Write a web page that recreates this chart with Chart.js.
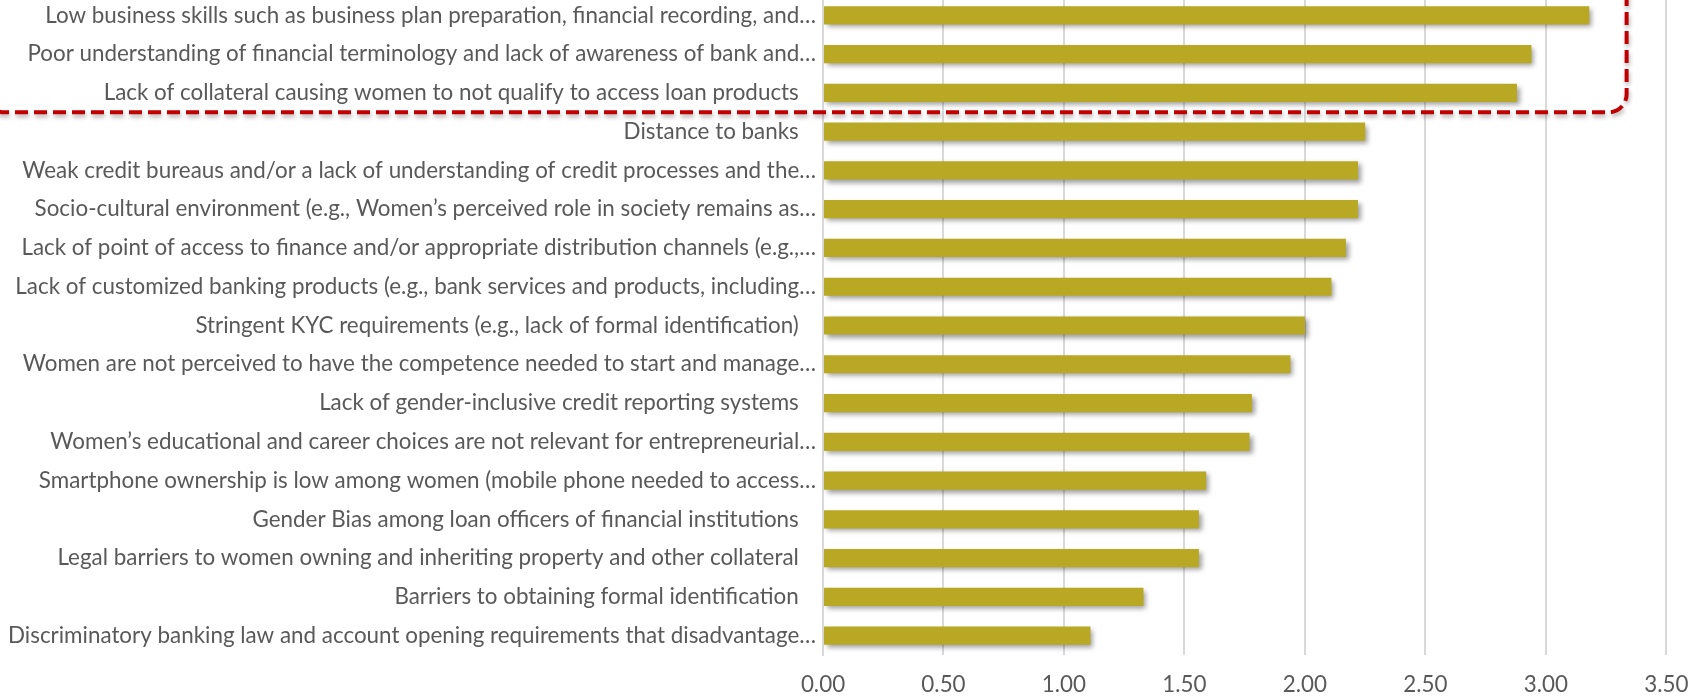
<!DOCTYPE html>
<html>
<head>
<meta charset="utf-8">
<title>Barriers to women's access to finance</title>
<script src="https://cdn.jsdelivr.net/npm/chart.js@4.4.1/dist/chart.umd.min.js"></script>
<style>
    html, body { margin: 0; padding: 0; background: #fff; overflow: hidden; }
    #wrap { position: absolute; left: 0; top: -4px; width: 1705px; height: 701px; }
</style>
</head>
<body>
<div id="wrap"><canvas id="barriers-chart"></canvas></div>
<script>
// Categories, top to bottom (labels are truncated in the source chart)
const categories = [
    'Low business skills such as business plan preparation, financial recording, and…',
    'Poor understanding of financial terminology and lack of awareness of bank and…',
    'Lack of collateral causing women to not qualify to access loan products\u00a0\u00a0\u00a0',
    'Distance to banks\u00a0\u00a0\u00a0',
    'Weak credit bureaus and/or a lack of understanding of credit processes and the…',
    'Socio-cultural environment (e.g., Women’s perceived role in society remains as…',
    'Lack of point of access to finance and/or appropriate distribution channels (e.g.,…',
    'Lack of customized banking products (e.g., bank services and products, including…',
    'Stringent KYC requirements (e.g., lack of formal identification)\u00a0\u00a0\u00a0',
    'Women are not perceived to have the competence needed to start and manage…',
    'Lack of gender-inclusive credit reporting systems\u00a0\u00a0\u00a0',
    'Women’s educational and career choices are not relevant for entrepreneurial…',
    'Smartphone ownership is low among women (mobile phone needed to access…',
    'Gender Bias among loan officers of financial institutions\u00a0\u00a0\u00a0',
    'Legal barriers to women owning and inheriting property and other collateral\u00a0\u00a0\u00a0',
    'Barriers to obtaining formal identification\u00a0\u00a0\u00a0',
    'Discriminatory banking law and account opening requirements that disadvantage…'
];

// Average score per barrier
const scores = [3.18, 2.94, 2.88, 2.25, 2.22, 2.22, 2.17, 2.11, 2.00, 1.94, 1.78, 1.77, 1.59, 1.56, 1.56, 1.33, 1.11];

// Value axis
const axisMin = 0;
const axisMax = 3.5;
const axisStep = 0.5;

// Number of top barriers wrapped by the red dashed box
const highlightCount = 3;

(function() {
    'use strict';

    const colors = {
        bar: '#B8A823',
        text: '#595959',
        grid: '#D9D9D9',
        highlight: '#C00000'
    };

    const fontFamily = 'Lato, "Open Sans", sans-serif';
    const fontSize = 22.4;

    // Drop shadow under the bars
    const barShadow = {
        id: 'barShadow',
        beforeDatasetsDraw(chart) {
            const ctx = chart.ctx;
            ctx.save();
            ctx.shadowColor = 'rgba(0, 0, 0, 0.38)';
            ctx.shadowBlur = 5;
            ctx.shadowOffsetX = 3;
            ctx.shadowOffsetY = 3;
        },
        afterDatasetsDraw(chart) {
            chart.ctx.restore();
        }
    };

    // Red dashed rounded box around the top barriers
    const highlightBox = {
        id: 'highlightBox',
        afterDraw(chart) {
            const ctx = chart.ctx;
            const x = chart.scales.x;
            const y = chart.scales.y;
            const bottom = (y.getPixelForValue(highlightCount - 1) + y.getPixelForValue(highlightCount)) / 2;
            const right = x.getPixelForValue(3.335);
            const left = -14;
            const top = -60;
            const r = 18;

            ctx.save();
            ctx.shadowColor = 'rgba(0, 0, 0, 0.3)';
            ctx.shadowBlur = 4;
            ctx.shadowOffsetX = 1;
            ctx.shadowOffsetY = 3;
            ctx.strokeStyle = colors.highlight;
            ctx.lineWidth = 4;
            ctx.setLineDash([13, 6]);
            ctx.beginPath();
            ctx.moveTo(right, top);
            ctx.lineTo(right, bottom - r);
            ctx.arcTo(right, bottom, right - r, bottom, r);
            ctx.lineTo(left + r, bottom);
            ctx.arcTo(left, bottom, left, bottom - r, r);
            ctx.lineTo(left, top);
            ctx.stroke();
            ctx.restore();
        }
    };

    function initChart() {
        const canvas = document.getElementById('barriers-chart');
        if (!canvas || typeof Chart === 'undefined') {
            return;
        }

        new Chart(canvas.getContext('2d'), {
            type: 'bar',
            data: {
                labels: categories,
                datasets: [{
                    data: scores,
                    backgroundColor: colors.bar,
                    borderWidth: 0,
                    categoryPercentage: 1,
                    barPercentage: 0.47
                }]
            },
            options: {
                indexAxis: 'y',
                responsive: true,
                maintainAspectRatio: false,
                animation: false,
                layout: {
                    padding: { left: 0, right: 37, top: 0, bottom: 0 }
                },
                plugins: {
                    legend: { display: false },
                    tooltip: { enabled: false }
                },
                scales: {
                    x: {
                        min: axisMin,
                        max: axisMax,
                        grid: {
                            color: colors.grid,
                            lineWidth: 2,
                            drawTicks: false
                        },
                        border: { display: false },
                        ticks: {
                            stepSize: axisStep,
                            padding: 16.5,
                            color: colors.text,
                            font: { family: fontFamily, size: fontSize },
                            callback: function(value) {
                                return Number(value).toFixed(2);
                            }
                        },
                        afterFit: function(scale) {
                            scale.height = 42;
                        }
                    },
                    y: {
                        grid: { display: false, drawTicks: false },
                        border: { display: true, color: colors.grid, width: 2 },
                        ticks: {
                            padding: 7,
                            autoSkip: false,
                            color: colors.text,
                            font: { family: fontFamily, size: fontSize }
                        },
                        afterFit: function(scale) {
                            scale.width = 823;
                            // let the plot run up to the canvas edge
                            scale.paddingTop = 0;
                            scale.paddingBottom = 0;
                        }
                    }
                }
            },
            plugins: [barShadow, highlightBox]
        });
    }

    if (document.readyState === 'loading') {
        document.addEventListener('DOMContentLoaded', initChart);
    } else {
        initChart();
    }
})();
</script>
</body>
</html>
